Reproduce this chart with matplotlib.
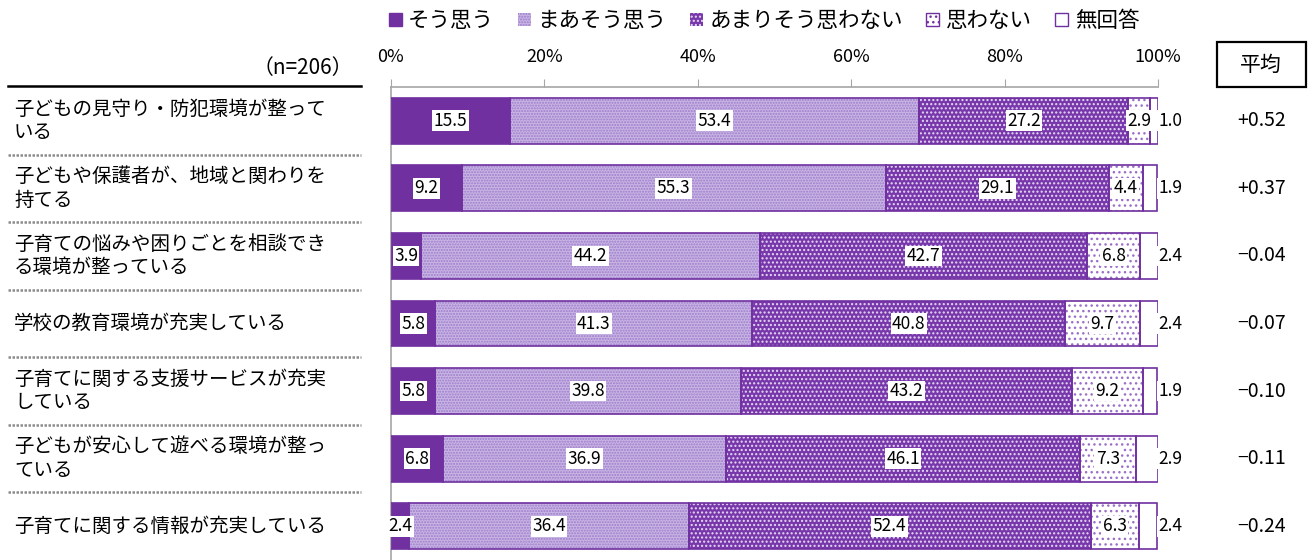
import numpy as np
import matplotlib
matplotlib.use("Agg")
import matplotlib.pyplot as plt
import matplotlib.transforms as mtransforms
from matplotlib.patches import Patch, Rectangle
from matplotlib.lines import Line2D

plt.rcParams['font.family'] = ['Noto Sans CJK JP', 'DejaVu Sans']
plt.rcParams['hatch.linewidth'] = 1.0

# data (top row first)
CATEGORIES = [
    "子どもの見守り・防犯環境が整って\nいる",
    "子どもや保護者が、地域と関わりを\n持てる",
    "子育ての悩みや困りごとを相談でき\nる環境が整っている",
    "学校の教育環境が充実している",
    "子育てに関する支援サービスが充実\nしている",
    "子どもが安心して遊べる環境が整っ\nている",
    "子育てに関する情報が充実している",
]
SERIES = ["そう思う", "まあそう思う", "あまりそう思わない", "思わない", "無回答"]
SOU_OMOU = [15.5, 9.2, 3.9, 5.8, 5.8, 6.8, 2.4]
MAA_SOU = [53.4, 55.3, 44.2, 41.3, 39.8, 36.9, 36.4]
AMARI = [27.2, 29.1, 42.7, 40.8, 43.2, 46.1, 52.4]
OMOWANAI = [2.9, 4.4, 6.8, 9.7, 9.2, 7.3, 6.3]
MUKAITO = [1.0, 1.9, 2.4, 2.4, 1.9, 2.9, 2.4]
AVERAGES = ["+0.52", "+0.37", "−0.04", "−0.07", "−0.10", "−0.11", "−0.24"]
N_LABEL = "（n=206）"

PURPLE = "#7030A0"
# (face, hatch colour, hatch)
STYLES = [
    (PURPLE, None, None),
    ("#C9B5E4", "#9C7CCB", "......"),
    ("#7838AC", "#E6DAF2", "...."),
    ("white", "#9B6FC8", "..."),
    ("white", None, None),
]

W, H = 1312, 560
fig = plt.figure(figsize=(W / 100, H / 100), dpi=100)
ax = fig.add_axes([391 / W, 0, 767 / W, (H - 87) / H])

values = [SOU_OMOU, MAA_SOU, AMARI, OMOWANAI, MUKAITO]
y = np.arange(len(CATEGORIES))
left = np.zeros(len(CATEGORIES))
bh = 0.68
for i, (vals, (face, hcol, hatch)) in enumerate(zip(values, STYLES)):
    vals = np.array(vals)
    ax.barh(y, vals, left=left, height=bh, color=face, edgecolor="none", zorder=2)
    if hatch:
        ax.barh(y, vals, left=left, height=bh, facecolor="none", edgecolor=hcol,
                hatch=hatch, linewidth=0, zorder=3)
    ax.barh(y, vals, left=left, height=bh, fill=False, edgecolor=PURPLE,
            linewidth=1.2, zorder=4)
    for yi, v, l in zip(y, vals, left):
        if i == 4:
            x = 101.6
        else:
            x = l + v / 2
        ax.text(x, yi, f"{v:.1f}", ha="center", va="center", fontsize=12.5,
                color="black", zorder=5,
                bbox=dict(facecolor="white", edgecolor="none", pad=1.0))
    left = left + vals

ax.set_xlim(0, 100)
ax.set_ylim(len(CATEGORIES) - 0.5, -0.5)
ax.xaxis.tick_top()
ax.set_xticks(np.arange(0, 101, 20))
ax.set_xticklabels([f"{t}%" for t in range(0, 101, 20)], fontsize=13)
ax.tick_params(axis="x", direction="out", length=6, color="#A6A6A6", pad=9)
ax.set_yticks([])
for s in ["right", "bottom"]:
    ax.spines[s].set_visible(False)
for s in ["top", "left"]:
    ax.spines[s].set_color("#A6A6A6")
    ax.spines[s].set_linewidth(1.2)

# category labels, separators and averages
tr = mtransforms.blended_transform_factory(fig.transFigure, ax.transData)
for yi, cat, avg in zip(y, CATEGORIES, AVERAGES):
    fig.text(14 / W, yi, cat, transform=tr, ha="left", va="center",
             fontsize=14, linespacing=1.15)
    fig.text(1262 / W, yi, avg, transform=tr, ha="center", va="center",
             fontsize=14)
for k in range(len(CATEGORIES) - 1):
    fig.add_artist(Line2D([8 / W, 361 / W], [k + 0.5, k + 0.5], transform=tr,
                          color="#8C8C8C", linewidth=1.8, linestyle=(0, (1, 0.6))))
fig.add_artist(Line2D([8 / W, 361 / W], [1 - 86 / H] * 2, color="black",
                      linewidth=1.8))
fig.text(353 / W, 1 - 68 / H, N_LABEL, ha="right", va="center", fontsize=15)

# average header box
fig.add_artist(Rectangle((1217 / W, 1 - 87 / H), 89 / W, 45 / H, fill=False,
                         edgecolor="black", linewidth=1.6, transform=fig.transFigure))
fig.text(1261 / W, 1 - 65 / H, "平均", ha="center", va="center", fontsize=15)

# legend
handles = []
for name, (face, hcol, hatch) in zip(SERIES, STYLES):
    if hatch:
        ec = hcol if face != "white" else PURPLE
        handles.append(Patch(facecolor=face, edgecolor=ec, hatch=hatch,
                             linewidth=0 if face != "white" else 1, label=name))
    else:
        handles.append(Patch(facecolor=face, edgecolor=PURPLE, linewidth=1,
                             label=name))
fig.legend(handles=handles, loc="center", bbox_to_anchor=(764 / W, 1 - 21 / H),
           ncol=5, frameon=False, fontsize=15.5, handlelength=0.6,
           handleheight=0.6, handletextpad=0.3, columnspacing=1.1)

fig.savefig("out.png", dpi=100)
